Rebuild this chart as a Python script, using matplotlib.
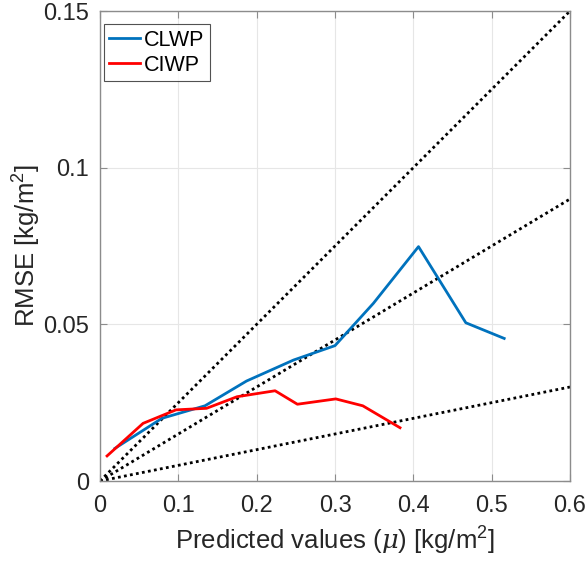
import matplotlib
matplotlib.use("Agg")
import matplotlib.pyplot as plt
import numpy as np

plt.rcParams['font.family'] = ['Liberation Sans', 'DejaVu Sans']
plt.rcParams['mathtext.fontset'] = 'custom'
plt.rcParams['mathtext.rm'] = 'Liberation Sans'
plt.rcParams['mathtext.it'] = 'DejaVu Serif:italic'

clwp_x = [0.019, 0.079, 0.134, 0.187, 0.247, 0.300, 0.349, 0.4066, 0.467, 0.516]
clwp_y = [0.0104, 0.0200, 0.0240, 0.0319, 0.0386, 0.0432, 0.0567, 0.0748, 0.0505, 0.0455]

ciwp_x = [0.009, 0.055, 0.097, 0.136, 0.175, 0.2235, 0.252, 0.301, 0.3355, 0.383]
ciwp_y = [0.0080, 0.0184, 0.0227, 0.0232, 0.0269, 0.0288, 0.0245, 0.0262, 0.0240, 0.0170]

ref_slopes = [0.25, 0.15, 0.05]
xticks = [0, 0.1, 0.2, 0.3, 0.4, 0.5, 0.6]
xticklabels = ["0", "0.1", "0.2", "0.3", "0.4", "0.5", "0.6"]
yticks = [0, 0.05, 0.1, 0.15]
yticklabels = ["0", "0.05", "0.1", "0.15"]

fig = plt.figure(figsize=(5.87, 5.61), dpi=100)
ax = fig.add_axes([100/587, 1 - 481/561, 470/587, 470/561])

xs = np.array([0, 0.6])
for s in ref_slopes:
    ax.plot(xs, s * xs, linestyle=(0, (1, 1.2)), color='black', linewidth=2.0, zorder=2)

ax.plot(clwp_x, clwp_y, color='#0072BD', linewidth=2.0, label='CLWP', zorder=3)
ax.plot(ciwp_x, ciwp_y, color='#FF0000', linewidth=2.0, label='CIWP', zorder=3)

ax.set_xlim(0, 0.6)
ax.set_ylim(0, 0.15)
ax.set_xticks(xticks)
ax.set_xticklabels(xticklabels)
ax.set_yticks(yticks)
ax.set_yticklabels(yticklabels)
ax.grid(True, color='#e6e6e6', linewidth=0.8)
ax.set_axisbelow(True)
ax.tick_params(direction='in', length=5, width=0.8, labelsize=17, color='#8c8c8c',
               labelcolor='#262626', top=True, right=True)
ax.tick_params(axis='x', pad=10)
ax.tick_params(axis='y', pad=8)
for sp in ax.spines.values():
    sp.set_color('#8c8c8c')
    sp.set_linewidth(1.0)

ax.set_xlabel(r'Predicted values ($\mu$) [kg/m$^2$]', fontsize=18.5, color='#262626', labelpad=6)
ax.set_ylabel(r'RMSE [kg/m$^2$]', fontsize=18.5, color='#262626', labelpad=0)

leg = ax.legend(loc='upper left', bbox_to_anchor=(0.0085, 0.972), fontsize=15.5,
                frameon=True, fancybox=False, edgecolor='#262626', handlelength=1.4,
                borderaxespad=0.0, handletextpad=0.2, borderpad=0.25, labelspacing=0.2)
leg.get_frame().set_linewidth(0.8)

fig.savefig('out.png', dpi=100)
